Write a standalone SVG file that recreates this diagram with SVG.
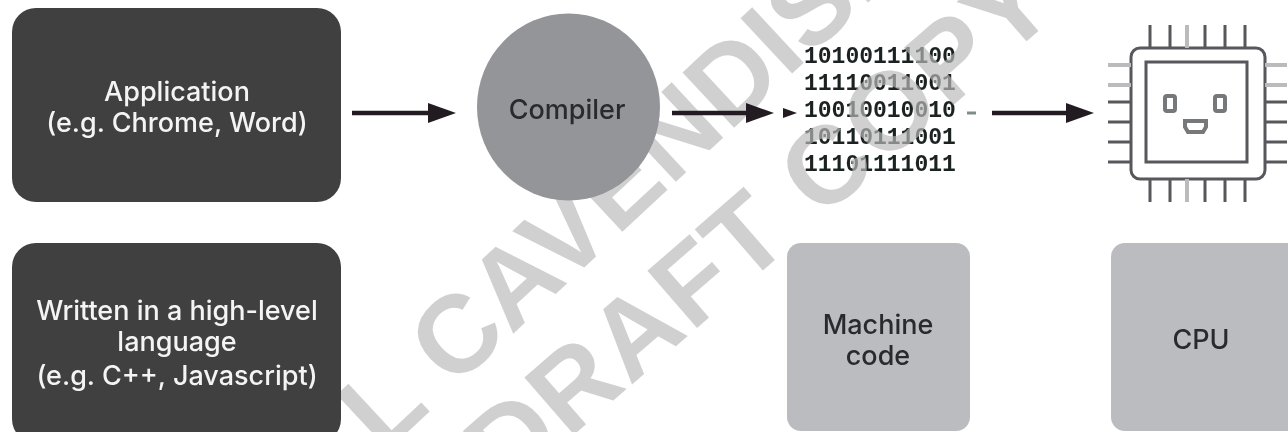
<svg xmlns="http://www.w3.org/2000/svg" width="1288" height="432" viewBox="0 0 1288 432">
<style>
.wm{font-family:"Liberation Sans",Arial,sans-serif;font-weight:700;font-size:110px;fill:#b9b9b9;fill-opacity:.68}
.lab{font-family:Inter,"Liberation Sans",sans-serif;font-weight:550;font-size:27px;text-anchor:middle}
.w{fill:#f4f4f4}.k{fill:#2b2b2d}
.bin{font-family:"Liberation Mono",monospace;font-weight:700;font-size:23px;fill:#1c2422}
.conn{stroke:#231f20;stroke-width:4.5;fill:none}
.cpu{fill:none;stroke:#58595b;stroke-width:3}
.cpu2{fill:none;stroke:#77787a;stroke-width:4}
</style>
<defs>
<marker id="ah" markerUnits="userSpaceOnUse" markerWidth="28" markerHeight="20" refX="0" refY="10" orient="auto"><path d="M0 0L28 10L0 20Z" fill="#231f20"/></marker>
<filter id="soft" x="0" y="0" width="100%" height="100%"><feGaussianBlur stdDeviation="0.55"/></filter>
</defs>
<rect width="1288" height="432" fill="#fff"/>
<g filter="url(#soft)">
<g id="binary">
<text class="bin" x="804" y="63">10100111100</text>
<text class="bin" x="804" y="90">11110011001</text>
<text class="bin" x="804" y="117">10010010010</text>
<text class="bin" x="804" y="144">10110111001</text>
<text class="bin" x="804" y="171">11101111011</text>
</g>
<g id="watermark">
<text class="wm" transform="translate(383,455) rotate(-43)">L CAVENDISH</text>
<text class="wm" letter-spacing="2" transform="translate(507,493) rotate(-41)">DRAFT COPY</text>
</g>
<g id="application"><rect x="12" y="8" width="329" height="194" rx="24" fill="#3f3f41"/>
<text class="lab w" x="177" y="101">Application</text><text class="lab w" x="177" y="132">(e.g. Chrome, Word)</text></g>
<g id="language"><rect x="12" y="243" width="329" height="200" rx="24" fill="#3f3f41"/>
<text class="lab w" x="177" y="320">Written in a high-level</text><text class="lab w" x="177" y="351">language</text><text class="lab w" x="177" y="385">(e.g. C++, Javascript)</text></g>
<g id="compiler"><ellipse cx="568.5" cy="107" rx="91.5" ry="93.5" fill="#939598"/><text class="lab k" x="567" y="119">Compiler</text></g>
<g id="chip">
<rect class="cpu" x="1131" y="48" width="134" height="131" rx="9"/>
<rect class="cpu" x="1146" y="62" width="101" height="100"/>
<path class="cpu" d="M1150 25V48M1170 25V48M1205 25V48M1225 25V48M1245 25V48M1150 179V202M1170 179V202M1205 179V202M1225 179V202M1245 179V202M1108 102H1131M1108 122H1131M1108 142H1131M1108 162H1131M1265 102H1287M1265 122H1287M1265 142H1287M1265 162H1287"/>
<path class="cpu" style="stroke:#bbb;stroke-width:4" d="M1187 25V48M1187 179V202M1108 65H1131M1108 85H1131M1265 65H1287M1265 85H1287"/>
<rect class="cpu2" x="1165" y="96" width="10" height="15" rx="2"/>
<rect class="cpu2" x="1215" y="96" width="10" height="15" rx="2"/>
<path class="cpu2" d="M1185 121H1206V127L1203 132H1188L1185 127Z"/>
</g>
<g id="connectors">
<path class="conn" d="M352 113H428" marker-end="url(#ah)"/>
<path class="conn" d="M672 113H746" marker-end="url(#ah)"/>
<path class="conn" d="M992 113H1066" marker-end="url(#ah)"/>
<path d="M783 108L797 113L783 118Z" fill="#231f20"/>
<path d="M967 113H976" stroke="#7f8c88" stroke-width="3"/>
</g>
<g id="machine-code"><rect x="787" y="243" width="183" height="188" rx="14" fill="#bbbcbf"/>
<text class="lab k" x="878" y="334">Machine</text><text class="lab k" x="878" y="365">code</text></g>
<g id="cpu"><rect x="1111" y="243" width="190" height="188" rx="14" fill="#bbbcbf"/>
<text class="lab k" x="1201" y="349">CPU</text></g>
</g>
</svg>
